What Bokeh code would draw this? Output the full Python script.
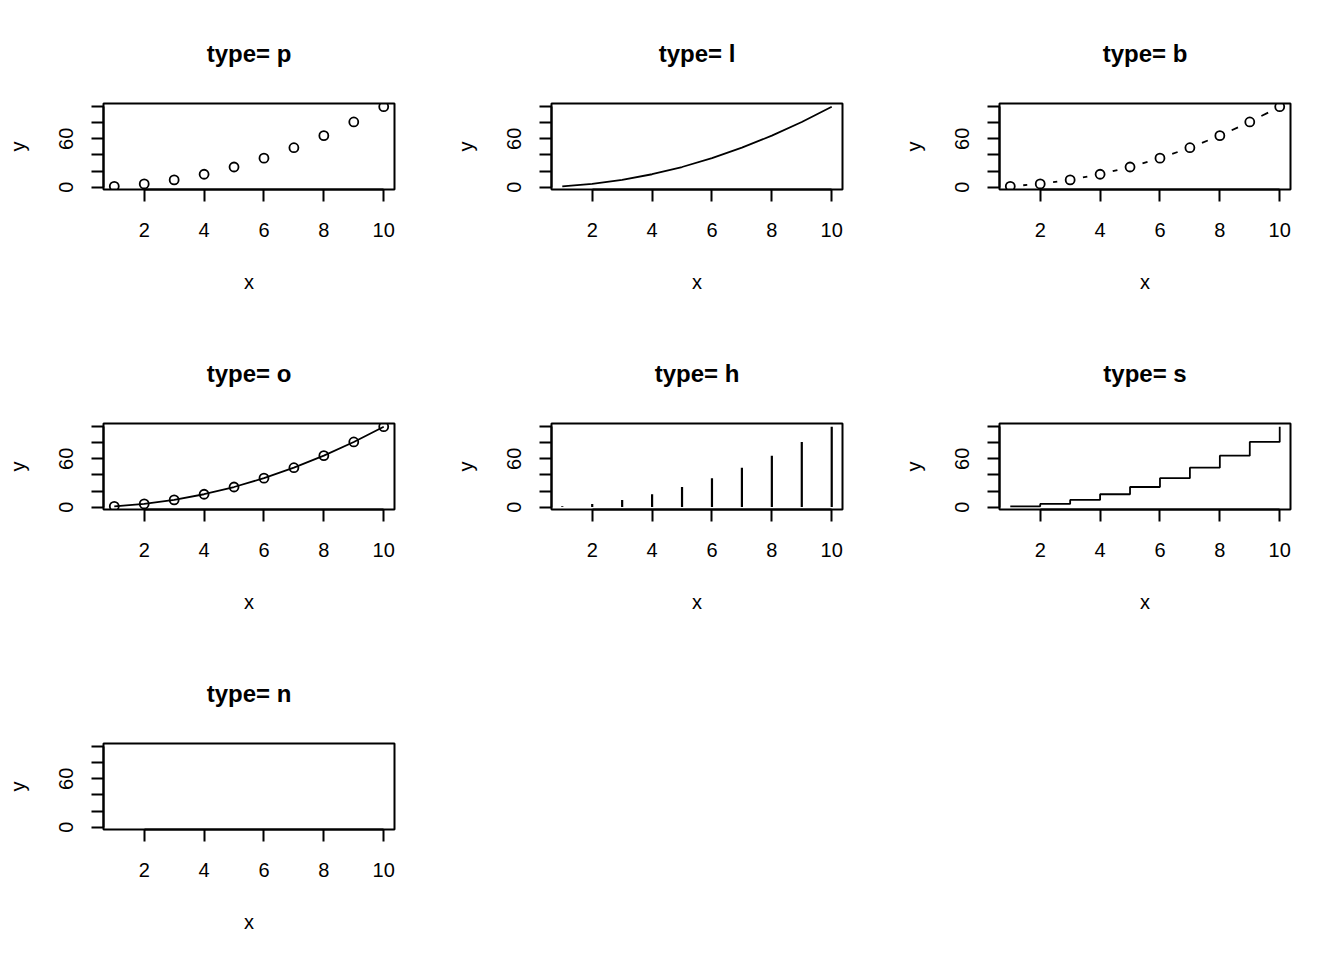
import math
from bokeh.plotting import figure
from bokeh.layouts import gridplot
from bokeh.models import Range1d, FixedTicker
from bokeh.embed import file_html
from bokeh.resources import INLINE

# ---- data ----
x_values = [1, 2, 3, 4, 5, 6, 7, 8, 9, 10]
y_values = [1, 4, 9, 16, 25, 36, 49, 64, 81, 100]
plot_types = ["p", "l", "b", "o", "h", "s", "n"]
x_ticks = [2, 4, 6, 8, 10]
y_ticks = [0, 20, 40, 60, 80, 100]
y_tick_labels = {0: "0", 20: "", 40: "", 60: "60", 80: "", 100: ""}

# ---- styling / layout ----
FONT = "Liberation Sans"
FRAME_W, FRAME_H = 291, 86
LW = 2.0
DLW = 1.8
PT_SIZE = 9
GAP_PX = 13
col_border_left = [103, 103, 103]
col_border_right = [54, 54, 46]
row_border_top = [103, 103, 103]
row_border_bottom = [131, 131, 123]

xmin, xmax = min(x_values), max(x_values)
ymin, ymax = min(y_values), max(y_values)
xpad = 0.04 * (xmax - xmin)
ypad = 0.04 * (ymax - ymin)
x_range = (xmin - xpad, xmax + xpad)
y_range = (ymin - ypad, ymax + ypad)


def make_panel(ptype, row, col):
    p = figure(
        frame_width=FRAME_W, frame_height=FRAME_H,
        x_range=Range1d(*x_range), y_range=Range1d(*y_range),
        output_backend="svg", toolbar_location=None,
        min_border_left=col_border_left[col], min_border_right=col_border_right[col],
        min_border_top=row_border_top[row], min_border_bottom=row_border_bottom[row],
        title="type= " + ptype,
    )
    p.title.align = "center"
    p.title.text_font = FONT
    p.title.text_font_size = "24px"
    p.title.text_font_style = "bold"
    p.title.text_color = "black"
    p.title.standoff = 74

    p.xgrid.visible = False
    p.ygrid.visible = False
    p.outline_line_color = "black"
    p.outline_line_width = LW
    p.outline_line_alpha = 1.0
    p.background_fill_color = "white"
    p.border_fill_color = "white"

    xa = p.xaxis[0]
    xa.ticker = FixedTicker(ticks=x_ticks)
    xa.bounds = (min(x_ticks), max(x_ticks))
    xa.axis_label = "x"
    ya = p.yaxis[0]
    ya.ticker = FixedTicker(ticks=y_ticks)
    ya.bounds = (min(y_ticks), max(y_ticks))
    ya.axis_label = "y"
    ya.major_label_overrides = y_tick_labels
    ya.major_label_orientation = "vertical"
    for ax in (xa, ya):
        ax.axis_line_color = "black"
        ax.axis_line_width = LW
        ax.major_tick_line_color = "black"
        ax.major_tick_line_width = LW
        ax.major_tick_out = 12
        ax.major_tick_in = 0
        ax.minor_tick_line_color = None
        ax.major_label_text_font = FONT
        ax.major_label_text_font_size = "20px"
        ax.major_label_text_color = "black"
        ax.axis_label_text_font = FONT
        ax.axis_label_text_font_size = "20px"
        ax.axis_label_text_font_style = "normal"
        ax.axis_label_text_color = "black"
    xa.major_label_standoff = 21
    xa.axis_label_standoff = 31
    ya.major_label_standoff = 18
    ya.axis_label_standoff = 28

    if ptype in ("p", "b", "o"):
        p.scatter(x_values, y_values, size=PT_SIZE, fill_color=None,
                  line_color="black", line_width=DLW)
    if ptype in ("l", "o"):
        p.line(x_values, y_values, line_color="black", line_width=DLW)
    if ptype == "b":
        sx = FRAME_W / (x_range[1] - x_range[0])
        sy = FRAME_H / (y_range[1] - y_range[0])
        x0s, y0s, x1s, y1s = [], [], [], []
        for i in range(len(x_values) - 1):
            dxp = (x_values[i + 1] - x_values[i]) * sx
            dyp = (y_values[i + 1] - y_values[i]) * sy
            d = math.hypot(dxp, dyp)
            if d <= 2 * GAP_PX:
                continue
            f = GAP_PX / d
            dx = x_values[i + 1] - x_values[i]
            dy = y_values[i + 1] - y_values[i]
            x0s.append(x_values[i] + f * dx)
            y0s.append(y_values[i] + f * dy)
            x1s.append(x_values[i + 1] - f * dx)
            y1s.append(y_values[i + 1] - f * dy)
        p.segment(x0s, y0s, x1s, y1s, line_color="black", line_width=DLW)
    if ptype == "h":
        p.segment(x_values, [0] * len(x_values), x_values, y_values,
                  line_color="black", line_width=DLW + 0.4)
    if ptype == "s":
        p.step(x_values, y_values, mode="after", line_color="black", line_width=DLW)
    return p


children = []
for r in range(3):
    row = []
    for c in range(3):
        k = r * 3 + c
        if k < len(plot_types):
            row.append(make_panel(plot_types[k], r, c))
        else:
            row.append(None)
    children.append(row)

grid = gridplot(children, toolbar_location=None)
open("out.html", "w").write(file_html(grid, INLINE))
